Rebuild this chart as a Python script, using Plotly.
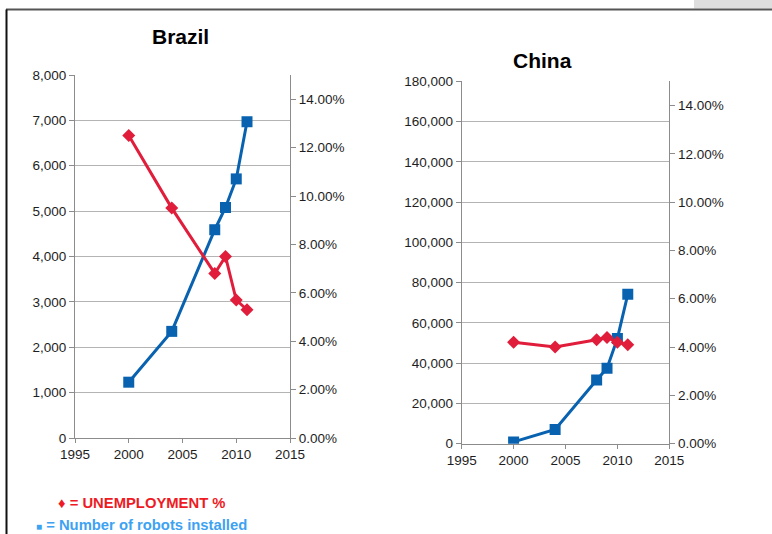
import plotly.graph_objects as go

# Brazil: industrial robots installed and unemployment rate
brazil_years = [2000, 2004, 2008, 2009, 2010, 2011]
brazil_robots = [1230, 2350, 4590, 5080, 5710, 6970]
brazil_unemp = [12.5, 9.5, 6.8, 7.5, 5.7, 5.3]

# China: industrial robots installed and unemployment rate
china_years = [2000, 2004, 2008, 2009, 2010, 2011]
china_robots = [900, 7100, 31600, 37500, 52300, 74200]
china_unemp = [4.2, 4.0, 4.3, 4.4, 4.2, 4.1]

pct_ticks = [0, 2, 4, 6, 8, 10, 12, 14]
pct_labels = ["0.00%", "2.00%", "4.00%", "6.00%", "8.00%", "10.00%", "12.00%", "14.00%"]
year_ticks = [1995, 2000, 2005, 2010, 2015]

W, H = 772, 534
BLUE = "#0862B0"
RED = "#E11D3C"
AXIS = "#8C8C8C"
GRID = "#B4B4B4"
TXT = "#1E1E1E"
FONT = "Liberation Sans, Arial, sans-serif"


def px(x):
    return x / W


def py(y):
    return (H - y) / H


fig = go.Figure()

fig.add_trace(go.Scatter(x=brazil_years, y=brazil_robots, mode="lines+markers",
                         line=dict(color=BLUE, width=3),
                         marker=dict(symbol="square", size=11, color=BLUE),
                         xaxis="x", yaxis="y", showlegend=False))
fig.add_trace(go.Scatter(x=brazil_years, y=brazil_unemp, mode="lines+markers",
                         line=dict(color=RED, width=3),
                         marker=dict(symbol="diamond", size=10, color=RED),
                         xaxis="x", yaxis="y2", showlegend=False))
fig.add_trace(go.Scatter(x=china_years, y=china_robots, mode="lines+markers",
                         line=dict(color=BLUE, width=3),
                         marker=dict(symbol="square", size=11, color=BLUE),
                         xaxis="x2", yaxis="y3", showlegend=False))
fig.add_trace(go.Scatter(x=china_years, y=china_unemp, mode="lines+markers",
                         line=dict(color=RED, width=3),
                         marker=dict(symbol="diamond", size=10, color=RED),
                         xaxis="x2", yaxis="y4", showlegend=False))

tickfont = dict(family=FONT, size=13.5, color=TXT)

xcommon = dict(range=[1995, 2015], tickvals=year_ticks, showgrid=False, zeroline=False,
               showline=True, linecolor=AXIS, linewidth=1, ticks="outside",
               ticklen=4, tickcolor=AXIS, tickfont=tickfont, automargin=False)
yleft = dict(showgrid=True, gridcolor=GRID, gridwidth=1.3, zeroline=False,
             showline=True, linecolor=AXIS, linewidth=1, ticks="outside",
             ticklen=5, tickcolor=AXIS, tickformat=",d", tickfont=tickfont,
             automargin=False)
yright = dict(range=[0, 15], tickvals=pct_ticks, ticktext=pct_labels,
              showgrid=False, zeroline=False, showline=True, linecolor=AXIS,
              linewidth=1, ticks="outside", ticklen=5, tickcolor=AXIS,
              side="right", tickfont=tickfont, automargin=False)

b_dom_x = [px(75), px(290)]
b_dom_y = [py(438), py(75)]
c_dom_x = [px(461.7), px(669.3)]
c_dom_y = [py(443.7), py(81.3)]

fig.update_layout(
    width=W, height=H,
    margin=dict(l=0, r=0, t=0, b=0, pad=0, autoexpand=False),
    paper_bgcolor="white", plot_bgcolor="white",
    xaxis=dict(domain=b_dom_x, anchor="y", **xcommon),
    yaxis=dict(domain=b_dom_y, anchor="x", range=[0, 8000], dtick=1000, **yleft),
    yaxis2=dict(overlaying="y", anchor="x", **yright),
    xaxis2=dict(domain=c_dom_x, anchor="y3", **xcommon),
    yaxis3=dict(domain=c_dom_y, anchor="x2", range=[0, 180000], dtick=20000, **yleft),
    yaxis4=dict(overlaying="y3", anchor="x2", **yright),
    font=dict(family=FONT),
)

# Chart titles
fig.add_annotation(text="<b>Brazil</b>", x=px(180), y=py(36), xref="paper", yref="paper",
                   xanchor="center", yanchor="middle", showarrow=False,
                   font=dict(family=FONT, size=21, color="#000000"))
fig.add_annotation(text="<b>China</b>", x=px(542.5), y=py(61), xref="paper", yref="paper",
                   xanchor="center", yanchor="middle", showarrow=False,
                   font=dict(family=FONT, size=21, color="#000000"))

# Key
fig.add_annotation(text="<b>\u2666 = UNEMPLOYMENT %</b>", x=px(56), y=py(502.5),
                   xref="paper", yref="paper", xanchor="left", yanchor="middle",
                   showarrow=False, font=dict(family=FONT, size=14.8, color="#EE1B24"))
fig.add_annotation(text="<b><span style='font-size:10px'>\u25A0</span> = Number of robots installed</b>",
                   x=px(34), y=py(525), xref="paper", yref="paper", xanchor="left",
                   yanchor="middle", showarrow=False,
                   font=dict(family=FONT, size=14.8, color="#3DA2F2"))

# Slide frame
fig.add_shape(type="rect", xref="paper", yref="paper", x0=px(694), x1=1, y0=py(8.5), y1=1,
              line=dict(width=0), fillcolor="#DEDEDE", layer="below")
fig.add_shape(type="line", xref="paper", yref="paper", x0=px(6), x1=1, y0=py(9.5), y1=py(9.5),
              line=dict(color="#555555", width=2))
fig.add_shape(type="line", xref="paper", yref="paper", x0=px(6.5), x1=px(6.5), y0=py(9.5), y1=0,
              line=dict(color="#111111", width=2))

fig.write_html("out.html")
